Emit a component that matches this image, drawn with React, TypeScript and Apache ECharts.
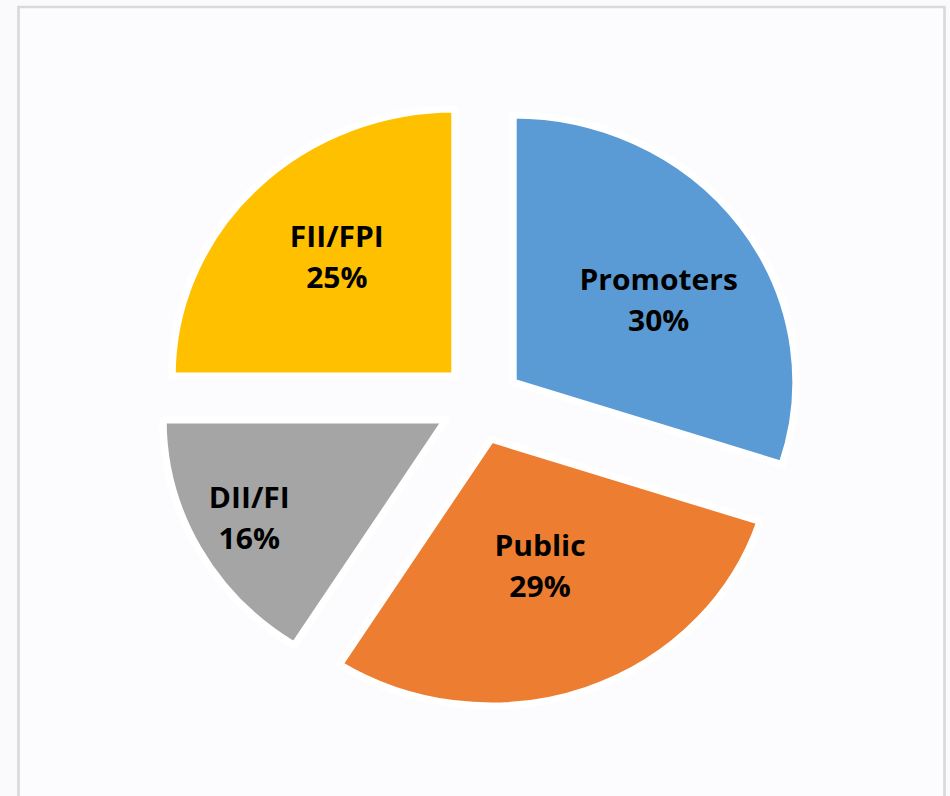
import React, { useEffect, useRef } from "react";
import * as echarts from "echarts";

const categories = ["Promoters", "Public", "DII/FI", "FII/FPI"];
const shares = [30, 29, 16, 25];
const colors = ["#5b9bd5", "#ed7d31", "#a5a5a5", "#ffc000"];

// layout: the reference pie is slightly wider than tall
const stretchX = 1.06;
const chartW = 950 / stretchX;
// exploded slice vertices (screen px, converted to chart coords) and label nudges
const vertexPx: [number, number][] = [
  [513, 382],
  [491, 439],
  [446, 420],
  [455, 376],
];
const labelShift: [number, number][] = [
  [27, -2],
  [0, -2],
  [-66, 32],
  [-15, -23],
];

export default function App() {
  const ref = useRef<HTMLDivElement>(null);
  useEffect(() => {
    document.body.style.margin = "0";
    if (!ref.current) return;
    const chart = echarts.init(ref.current, undefined, { renderer: "svg" });
    const series = categories.map((_, si) => ({
      type: "pie",
      center: [vertexPx[si][0] / stretchX, vertexPx[si][1]],
      radius: 267,
      startAngle: 90,
      clockwise: true,
      avoidLabelOverlap: false,
      silent: true,
      emphasis: { disabled: true },
      labelLine: { show: false },
      labelLayout: { dx: labelShift[si][0], dy: labelShift[si][1] },
      data: categories.map((name, i) => ({
        name,
        value: shares[i],
        itemStyle:
          i === si
            ? { color: colors[i], borderColor: "#ffffff", borderWidth: 7 }
            : { color: "rgba(0,0,0,0)", borderWidth: 0 },
        label:
          i === si
            ? {
                show: true,
                position: "inside",
                formatter: (p: any) => `${p.name}\n${p.value}%`,
                fontFamily: "Open Sans",
                fontWeight: "bold",
                fontSize: 28.3,
                lineHeight: 41,
                color: "#000000",
                align: "center",
              }
            : { show: false },
      })),
    }));
    chart.setOption({
      animation: false,
      backgroundColor: "#fafafc",
      graphic: [
        {
          type: "rect",
          z: -10,
          silent: true,
          shape: { x: 18.5 / stretchX, y: 7, width: 926 / stretchX, height: 860 },
          style: { fill: "#fcfcfe", stroke: "#d9d9d9", lineWidth: 2.5 },
        },
      ],
      series,
    } as any);
    return () => chart.dispose();
  }, []);
  return (
    <div style={{ width: 950, height: 796, overflow: "hidden", background: "#fafafc" }}>
      <div
        ref={ref}
        style={{
          width: chartW,
          height: 796,
          transform: `scaleX(${stretchX})`,
          transformOrigin: "0 0",
        }}
      />
    </div>
  );
}
